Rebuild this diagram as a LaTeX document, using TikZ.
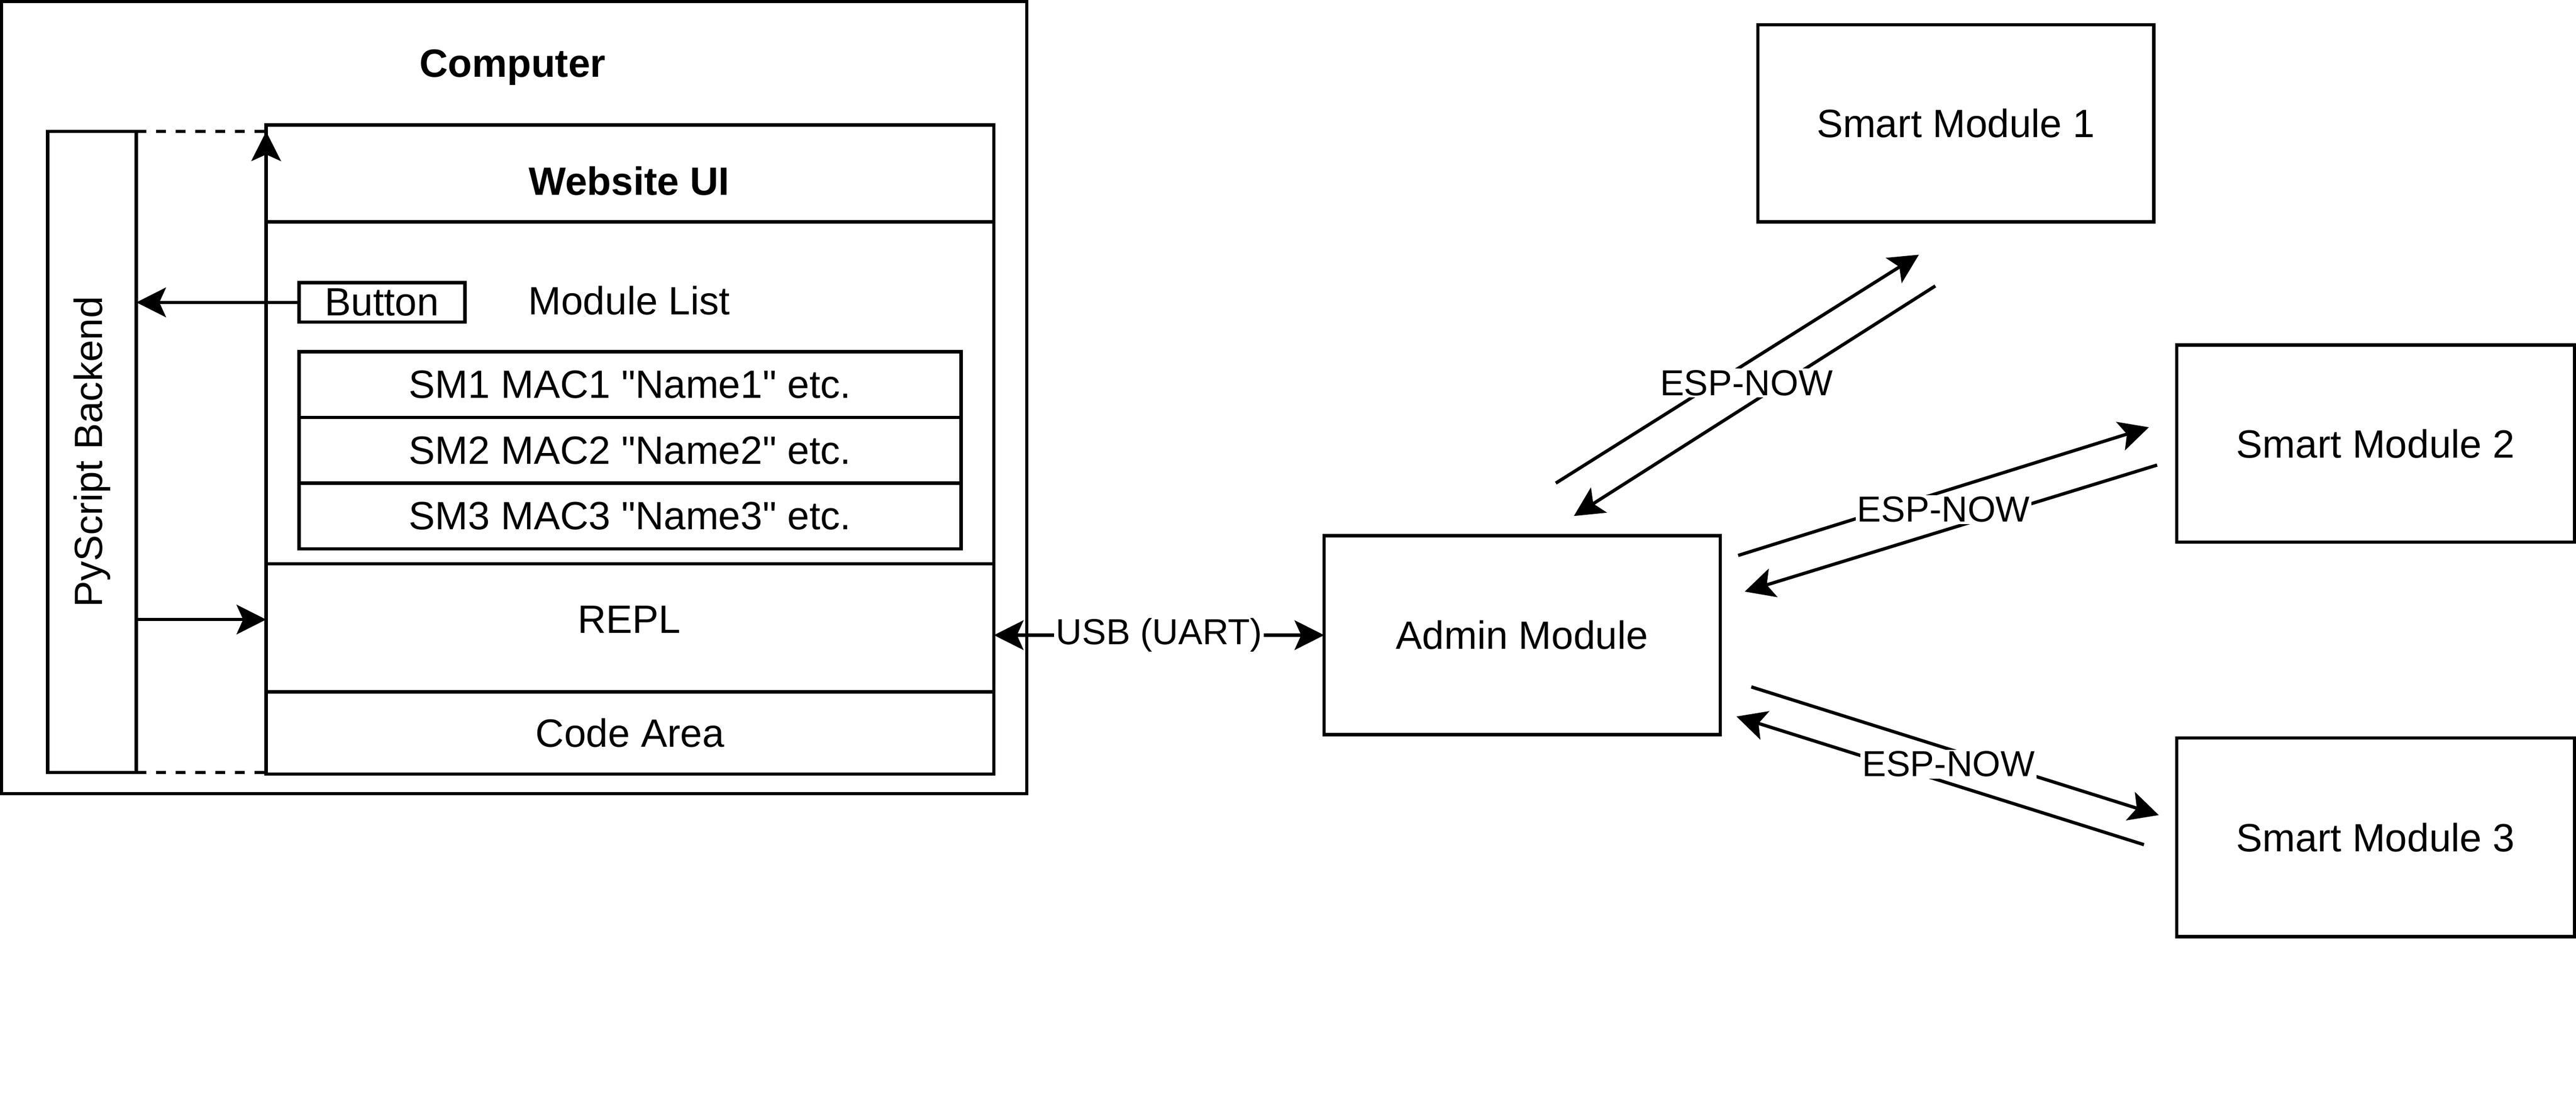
\documentclass[tikz,border=0pt]{standalone}
\usepackage{fontspec}
\setmainfont{Liberation Sans}
\usetikzlibrary{arrows.meta}

\tikzset{
  box/.style={draw, line width=2pt, inner sep=0pt, outer sep=0pt, font=\fontsize{24}{28}\selectfont},
  txt/.style={inner sep=0pt, font=\fontsize{24}{28}\selectfont},
  link/.style={line width=2pt, -{Stealth[length=18pt,width=18pt,inset=4pt]}},
  linklabel/.style={fill=white, inner sep=1pt, font=\fontsize{22}{26}\selectfont},
}

\begin{document}
\begin{tikzpicture}[x=1pt, y=-1pt]
  \useasboundingbox (0,0) rectangle (1568,674);

  % Computer
  \node[box, minimum width=624pt, minimum height=482pt] (computer) at (313,242) {};
  \node[txt, font=\fontsize{24}{28}\selectfont\bfseries] (title) at (312,41) {Computer};

  % PyScript backend
  \node[box, minimum width=54pt, minimum height=390pt] (backend) at (56,275) {};
  \node[txt, rotate=90] (backendtext) at (backend.center) {PyScript Backend};

  % Website UI sections
  \node[box, minimum width=443pt, minimum height=59pt] (header) at (383.5,105.5) {};
  \node[txt, font=\fontsize{24}{28}\selectfont\bfseries] (headertext) at (383,110) {Website UI};
  \node[box, minimum width=443pt, minimum height=208pt] (listarea) at (383.5,239) {};
  \node[box, minimum width=443pt, minimum height=78pt] (repl) at (383.5,382) {};
  \node[txt] (repltext) at (383,377) {REPL};
  \node[box, minimum width=443pt, minimum height=50pt] (code) at (383.5,446) {Code Area};

  \node[box, minimum width=101pt, minimum height=24pt] (button) at (232.5,184) {Button};
  \node[txt] (listtitle) at (383,183) {Module List};
  \foreach \i in {1,2,3} {
    \node[box, minimum width=403pt, minimum height=40pt] (row\i) at (383.5,{194+\i*40})
      {SM\i{} MAC\i{} \textquotedbl Name\i\textquotedbl{} etc.};
  }

  \draw[line width=2pt, dashed, dash pattern=on 6pt off 6pt] (backend.north east) -- (backend.north east -| header.west);
  \draw[line width=2pt, dashed, dash pattern=on 6pt off 6pt] (backend.south east) -- (backend.south east -| code.west);
  \draw[link] (code.south west) -- (backend.north east -| header.west);
  \draw[link] (button.west) -- (button.west -| backend.east);
  \draw[link] (backend.east |- repltext) -- (repl.west |- repltext);

  % Modules
  \node[box, minimum width=241pt, minimum height=121pt] (admin) at (926.5,386.5) {Admin Module};
  \node[box, minimum width=241pt, minimum height=120pt] (sm1) at (1190.5,75) {Smart Module 1};
  \node[box, minimum width=242pt, minimum height=120pt] (sm2) at (1446,270) {Smart Module 2};
  \node[box, minimum width=242pt, minimum height=121pt] (sm3) at (1446,509.5) {Smart Module 3};

  \draw[link, {Stealth[length=18pt,width=18pt,inset=4pt]}-{Stealth[length=18pt,width=18pt,inset=4pt]}] (admin.west -| repl.east) -- (admin.west)
    node[linklabel, midway] (usb) {USB (UART)};

  % ESP-NOW links
  \coordinate (a1) at (947,294);  \coordinate (m1) at (1168,155);
  \coordinate (b1) at (1178,174); \coordinate (c1) at (958,314);
  \coordinate (a2) at (1058,338); \coordinate (m2) at (1308,260);
  \coordinate (b2) at (1313,283); \coordinate (c2) at (1062,360);
  \coordinate (a3) at (1066,418); \coordinate (m3) at (1314,496);
  \coordinate (b3) at (1305,514); \coordinate (c3) at (1057,436);
  \foreach \i in {1,2,3} {
    \draw[link] (a\i) -- (m\i);
    \draw[link] (b\i) -- (c\i);
  }
  \node[linklabel] (esp1) at (1063,233) {ESP-NOW};
  \node[linklabel] (esp2) at (1183,310) {ESP-NOW};
  \node[linklabel] (esp3) at (1186,465) {ESP-NOW};
\end{tikzpicture}
\end{document}
